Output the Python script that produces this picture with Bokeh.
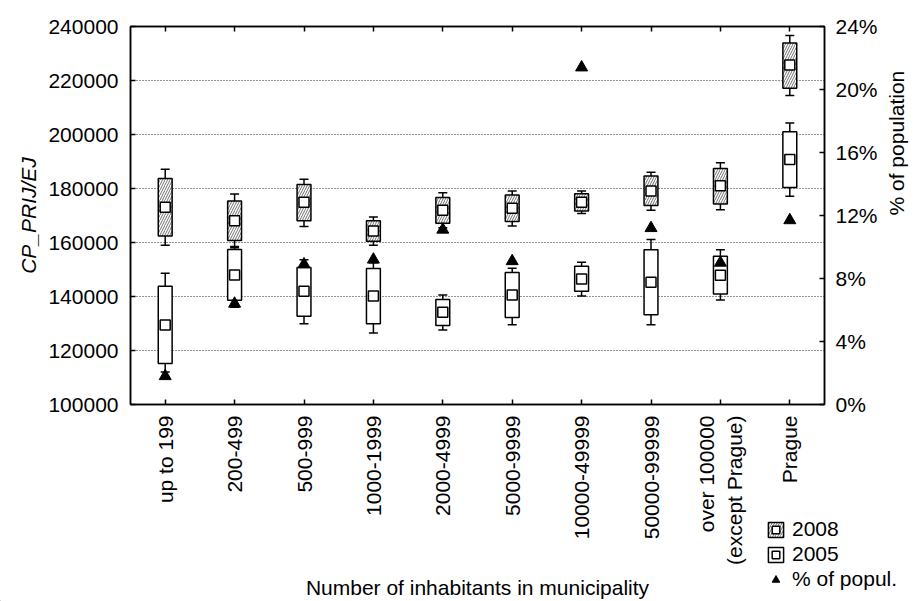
import math
from bokeh.plotting import figure
from bokeh.models import (FactorRange, Range1d, LinearAxis, CategoricalAxis, FixedTicker,
                          PrintfTickFormatter, NumeralTickFormatter, ColumnDataSource,
                          Legend, LegendItem)
from bokeh.embed import file_html
from bokeh.resources import INLINE

categories = ["up to 199", "200-499", "500-999", "1000-1999", "2000-4999", "5000-9999",
              "10000-49999", "50000-99999", "over 100000\n(except Prague)", "Prague"]

# 2008 series
y08_whisker_low = [159000, 158100, 165900, 159000, 165500, 166100, 170700, 171900, 172100, 214400]
y08_box_low = [162400, 160700, 168100, 160500, 167100, 167800, 171700, 173700, 174300, 217100]
y08_mean = [173100, 168100, 174900, 164300, 171900, 172700, 174900, 179100, 181000, 225700]
y08_box_high = [183700, 175400, 181500, 168100, 176700, 177600, 178100, 184600, 187400, 233900]
y08_whisker_high = [187100, 178000, 183400, 169400, 178400, 179100, 179100, 186000, 189500, 236700]

# 2005 series
y05_whisker_low = [112000, 136000, 129900, 126500, 127600, 129500, 140200, 129500, 138700, 177100]
y05_box_low = [115200, 138600, 132700, 129900, 129300, 132200, 141900, 133200, 140900, 180400]
y05_mean = [129400, 148000, 141900, 140200, 134200, 140600, 146500, 145300, 147900, 190700]
y05_box_high = [143800, 157400, 150700, 150400, 138900, 148900, 151200, 157300, 154900, 201000]
y05_whisker_high = [148600, 158500, 153600, 152500, 140600, 150500, 152700, 161100, 157300, 204300]

# % of population
pct_population = [1.8, 6.4, 8.9, 9.2, 11.1, 9.1, 21.4, 11.2, 9.0, 11.7]

left_ticks = [100000, 120000, 140000, 160000, 180000, 200000, 220000, 240000]
right_ticks = [0, 4, 8, 12, 16, 20, 24]
legend_labels = ["2008", "2005", "% of popul."]

FONT = "Liberation Sans"
FS = "21px"

HATCH = dict(hatch_pattern="/", hatch_color="#333333", hatch_scale=5, hatch_weight=0.7)
BOX_STYLE = dict(fill_color="white", line_color="black", line_width=1.5)
MEAN_STYLE = dict(marker="square", size=10, fill_color="white", line_color="black", line_width=1.5)
TRI_STYLE = dict(marker="triangle", size=12, fill_color="black", line_color="black")

src08 = ColumnDataSource(dict(x=categories, wl=y08_whisker_low, bl=y08_box_low, m=y08_mean,
                              bh=y08_box_high, wh=y08_whisker_high))
src05 = ColumnDataSource(dict(x=categories, wl=y05_whisker_low, bl=y05_box_low, m=y05_mean,
                              bh=y05_box_high, wh=y05_whisker_high))
srcp = ColumnDataSource(dict(x=categories, p=pct_population))

p = figure(x_range=FactorRange(*categories, range_padding=0),
           y_range=Range1d(100000, 240000),
           frame_width=694, frame_height=378,
           min_border_left=130, min_border_right=91, min_border_top=26, min_border_bottom=197,
           output_backend="svg", toolbar_location=None, background_fill_color="white",
           border_fill_color="white")
p.extra_y_ranges = {"pct": Range1d(0, 24)}
p.outline_line_color = "black"
p.outline_line_width = 1.5

# grid
p.xgrid.grid_line_color = None
p.ygrid.ticker = FixedTicker(ticks=left_ticks)
p.ygrid.grid_line_color = "black"
p.ygrid.grid_line_alpha = 0.85
p.ygrid.grid_line_dash = "1 2"
p.ygrid.grid_line_width = 1

def style_axis(ax):
    ax.axis_line_color = "black"
    ax.axis_line_width = 1.5
    ax.major_tick_in = 5
    ax.major_tick_out = 0
    ax.minor_tick_line_color = None
    ax.major_tick_line_color = "black"
    ax.major_tick_line_width = 1.5
    ax.major_label_text_font = FONT
    ax.major_label_text_font_size = FS
    ax.major_label_text_color = "black"
    ax.axis_label_text_font = FONT
    ax.axis_label_text_font_size = FS
    ax.axis_label_text_color = "black"
    ax.axis_label_text_font_style = "normal"

# bottom axis
xa = p.xaxis[0]
style_axis(xa)
xa.major_label_orientation = math.pi / 2
xa.major_label_standoff = 11
xa.axis_label = "Number of inhabitants in municipality"
xa.axis_label_standoff = 8

# left axis
ya = p.yaxis[0]
style_axis(ya)
ya.ticker = FixedTicker(ticks=left_ticks)
ya.formatter = NumeralTickFormatter(format="0")
ya.major_label_standoff = 12
ya.axis_label = "CP_PRIJ/EJ"
ya.axis_label_text_font_style = "italic"
ya.axis_label_standoff = 5

# right axis
ra = LinearAxis(y_range_name="pct", ticker=FixedTicker(ticks=right_ticks),
                formatter=PrintfTickFormatter(format="%d%%"))
style_axis(ra)
ra.major_label_standoff = 11
ra.axis_label = "% of population"
ra.axis_label_standoff = 16
ra.axis_label_orientation = math.pi / 2
p.add_layout(ra, "right")

# top axis (ticks only)
ta = CategoricalAxis()
style_axis(ta)
ta.major_label_text_font_size = "0px"
ta.major_label_standoff = 0
p.add_layout(ta, "above")

BOX_W = 0.2

# whiskers
for src in (src05, src08):
    p.segment(x0="x", y0="bh", x1="x", y1="wh", source=src, line_color="black", line_width=1.5)
    p.segment(x0="x", y0="bl", x1="x", y1="wl", source=src, line_color="black", line_width=1.5)
    p.scatter(x="x", y="wh", source=src, marker="dash", size=9, line_color="black", line_width=1.5)
    p.scatter(x="x", y="wl", source=src, marker="dash", size=9, line_color="black", line_width=1.5)

p.vbar(x="x", top="bh", bottom="bl", width=BOX_W, source=src08, **BOX_STYLE, **HATCH)
p.vbar(x="x", top="bh", bottom="bl", width=BOX_W, source=src05, **BOX_STYLE)
p.scatter(x="x", y="m", source=src08, **MEAN_STYLE)
p.scatter(x="x", y="m", source=src05, **MEAN_STYLE)
p.scatter(x="x", y="p", source=srcp, y_range_name="pct", **TRI_STYLE)

# full-page transparent overlay (separate root, absolutely positioned) carrying the legend
leg = figure(width=915, height=601, x_range=Range1d(0, 1), y_range=Range1d(0, 1),
             min_border=0, output_backend="svg", toolbar_location=None,
             x_axis_type=None, y_axis_type=None)
leg.grid.grid_line_color = None
leg.outline_line_color = None
leg.background_fill_alpha = 0
leg.border_fill_alpha = 0
leg.styles = {"position": "absolute", "left": "0px", "top": "0px", "pointer-events": "none"}

def dummy():
    # swatch-only renderers, kept outside the visible range
    return ColumnDataSource(dict(x=[-5.0], t=[-5.0], b=[-5.5], y=[-5.0]))

lb08 = leg.vbar(x="x", top="t", bottom="b", width=0.1, source=dummy(), **BOX_STYLE, **HATCH)
lm08 = leg.scatter(x="x", y="y", source=dummy(), **MEAN_STYLE)
lb05 = leg.vbar(x="x", top="t", bottom="b", width=0.1, source=dummy(), **BOX_STYLE)
lm05 = leg.scatter(x="x", y="y", source=dummy(), **MEAN_STYLE)
ltri = leg.scatter(x="x", y="y", source=dummy(), **TRI_STYLE)

legend = Legend(items=[LegendItem(label=legend_labels[0], renderers=[lb08, lm08], index=0),
                       LegendItem(label=legend_labels[1], renderers=[lb05, lm05], index=0),
                       LegendItem(label=legend_labels[2], renderers=[ltri], index=0)],
                location=(766, 10), padding=0, margin=0, spacing=1,
                glyph_width=19, glyph_height=19, label_standoff=7, label_height=20,
                border_line_alpha=0, background_fill_alpha=0,
                label_text_font=FONT, label_text_font_size=FS, label_text_color="black")
leg.add_layout(legend, "center")

open("out.html", "w").write(file_html([p, leg], INLINE))
